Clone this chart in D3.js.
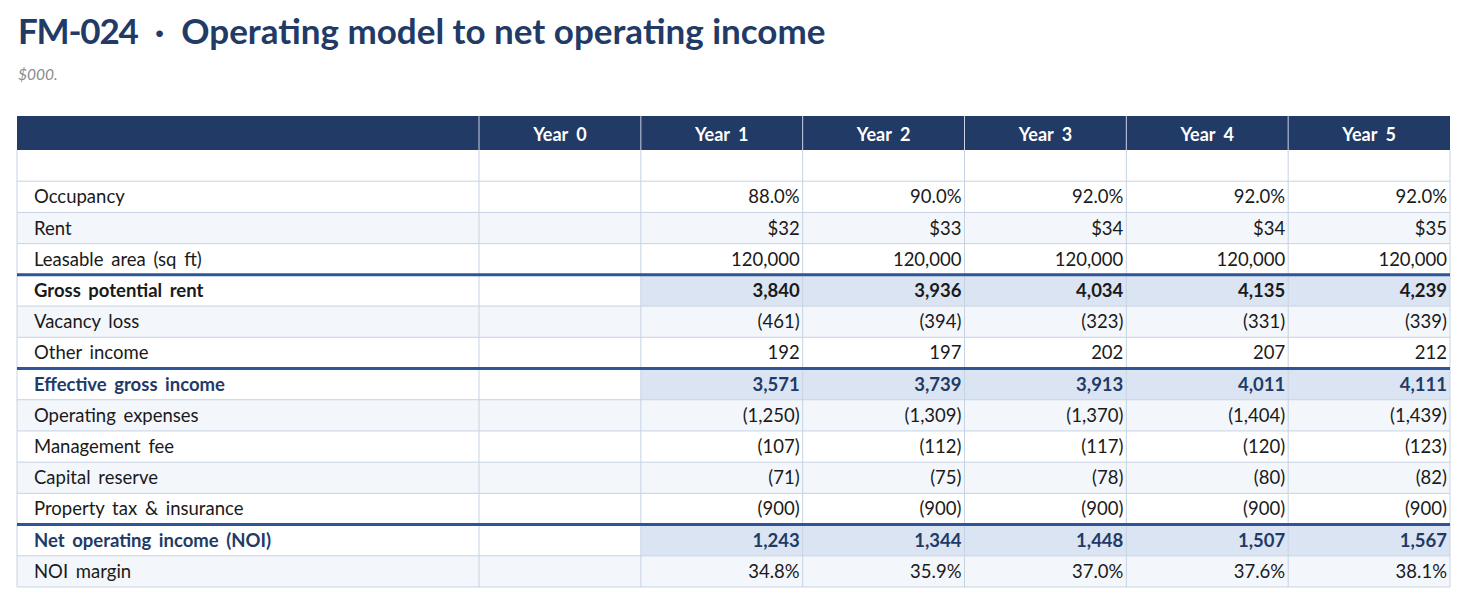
<!DOCTYPE html>
<html><head><meta charset="utf-8">
<script src="https://cdn.jsdelivr.net/npm/d3@7"></script>
<style>
html,body{margin:0;padding:0;background:#fff;}
svg{display:block;font-family:Lato,"Open Sans",sans-serif;}
</style></head>
<body><svg id="c" width="1467" height="604"></svg>
<script>
const titleCode = "FM-024";
const titleText = "  \u00b7  Operating model to net operating income";
const subtitle = "$000.";
const columns = ["Year 0","Year 1","Year 2","Year 3","Year 4","Year 5"];
const rowLabels = ["","Occupancy","Rent","Leasable area (sq ft)","Gross potential rent","Vacancy loss","Other income","Effective gross income","Operating expenses","Management fee","Capital reserve","Property tax & insurance","Net operating income (NOI)","NOI margin"];
const rowKinds = ["blank","pct","usd","num","total","num","num","key","num","num","num","num","key","pct"];
const occupancy = [null,88.0,90.0,92.0,92.0,92.0];
const rent = [null,32,33,34,34,35];
const leasable = [null,120000,120000,120000,120000,120000];
const grossPotentialRent = [null,3840,3936,4034,4135,4239];
const vacancyLoss = [null,-461,-394,-323,-331,-339];
const otherIncome = [null,192,197,202,207,212];
const effectiveGrossIncome = [null,3571,3739,3913,4011,4111];
const operatingExpenses = [null,-1250,-1309,-1370,-1404,-1439];
const managementFee = [null,-107,-112,-117,-120,-123];
const capitalReserve = [null,-71,-75,-78,-80,-82];
const propertyTax = [null,-900,-900,-900,-900,-900];
const noi = [null,1243,1344,1448,1507,1567];
const noiMargin = [null,34.8,35.9,37.0,37.6,38.1];
const rowValues = [[null,null,null,null,null,null],occupancy,rent,leasable,grossPotentialRent,vacancyLoss,otherIncome,effectiveGrossIncome,operatingExpenses,managementFee,capitalReserve,propertyTax,noi,noiMargin];

const svg = d3.select("#c");
const navy = "#223a66", rule = "#2f5597", grid = "#c7d2e3", stripe = "#f3f7fc", totalBg = "#dae4f3";

const tt = svg.append("text").attr("x",18).attr("y",44).attr("font-size",35).attr("font-weight",700)
  .attr("fill",navy).style("white-space","pre");
tt.append("tspan").attr("letter-spacing",-1.2).text(titleCode);
tt.append("tspan").attr("letter-spacing",0).text(titleText);
svg.append("text").attr("x",18).attr("y",80).attr("font-size",15.5).attr("font-style","italic")
  .attr("fill","#8a8a8a").text(subtitle);

const tLeft = 17, tRight = 1450, labelW = 462, tTop = 116, headH = 34, tBottom = 587;
const x = d3.scaleBand().domain(columns).range([tLeft+labelW, tRight]);
const y = d3.scaleBand().domain(d3.range(rowLabels.length)).range([tTop+headH, tBottom]);

// header
svg.append("rect").attr("x",tLeft).attr("y",tTop).attr("width",tRight-tLeft).attr("height",headH).attr("fill",navy);
svg.selectAll(".hsep").data(columns).join("line")
  .attr("x1",d=>x(d)).attr("x2",d=>x(d)).attr("y1",tTop).attr("y2",tTop+headH)
  .attr("stroke","#c9d3e4").attr("stroke-width",1);
svg.selectAll(".htxt").data(columns).join("text")
  .attr("x",d=>x(d)+x.bandwidth()/2).attr("y",tTop+headH/2+7.5).attr("text-anchor","middle")
  .attr("font-size",18).attr("font-weight",700).attr("word-spacing",4).attr("fill","#fff").text(d=>d);

// row backgrounds (zebra over non-total rows)
let k = 0;
const stripeFlags = rowKinds.map(kind => {
  if (kind==="blank" || kind==="total" || kind==="key") return false;
  return (k++) % 2 === 1;
});
const rows = svg.selectAll(".row").data(rowLabels.map((l,i)=>i)).join("g");
rows.append("rect").attr("x",tLeft).attr("y",i=>y(i)).attr("width",tRight-tLeft).attr("height",y.bandwidth())
  .attr("fill",i=>stripeFlags[i]?stripe:"#fff");
rows.filter(i=>rowKinds[i]==="total"||rowKinds[i]==="key").selectAll("rect.tc")
  .data(i=>columns.slice(1).map(c=>({i,c}))).join("rect")
  .attr("x",d=>x(d.c)).attr("y",d=>y(d.i)).attr("width",x.bandwidth()).attr("height",y.bandwidth())
  .attr("fill",totalBg);

// grid lines
const hLines = d3.range(rowLabels.length+1).map(i => i<rowLabels.length ? y(i) : tBottom);
svg.selectAll(".hl").data(hLines.slice(1)).join("line")
  .attr("x1",tLeft).attr("x2",tRight).attr("y1",d=>d).attr("y2",d=>d).attr("stroke",grid).attr("stroke-width",1);
const vLines = [tLeft, ...columns.map(c=>x(c)), tRight];
svg.selectAll(".vl").data(vLines).join("line")
  .attr("x1",d=>d).attr("x2",d=>d).attr("y1",tTop+headH).attr("y2",tBottom).attr("stroke",grid).attr("stroke-width",1);

// thick rules above totals
svg.selectAll(".tr").data(d3.range(rowLabels.length).filter(i=>rowKinds[i]==="total"||rowKinds[i]==="key")).join("line")
  .attr("x1",tLeft).attr("x2",tRight).attr("y1",i=>y(i)).attr("y2",i=>y(i)).attr("stroke",rule).attr("stroke-width",3);

// text
const fmtInt = d3.format(",.0f");
function fmt(v, kind){
  if (v==null) return "";
  if (kind==="pct") return v.toFixed(1)+"%";
  if (kind==="usd") return "$"+fmtInt(v);
  return v<0 ? "("+fmtInt(-v)+")" : fmtInt(v);
}
const isBold = i => rowKinds[i]==="total"||rowKinds[i]==="key";
rows.append("text").attr("x",34).attr("y",i=>y(i)+y.bandwidth()/2+6.5)
  .attr("font-size",18.5).attr("word-spacing",3).attr("font-weight",i=>isBold(i)?700:400)
  .attr("fill",i=>rowKinds[i]==="key"?navy:"#1a1a1a").text(i=>rowLabels[i]);
rows.selectAll("text.v").data(i=>columns.map((c,j)=>({i,c,v:rowValues[i][j]}))).join("text")
  .attr("x",d=>x(d.c)+x.bandwidth()-3).attr("y",d=>y(d.i)+y.bandwidth()/2+6.5).attr("text-anchor","end")
  .attr("font-size",18.5).attr("font-weight",d=>isBold(d.i)?700:400)
  .attr("fill",d=>rowKinds[d.i]==="key"?navy:"#1a1a1a").text(d=>fmt(d.v,rowKinds[d.i]));
</script></body></html>
